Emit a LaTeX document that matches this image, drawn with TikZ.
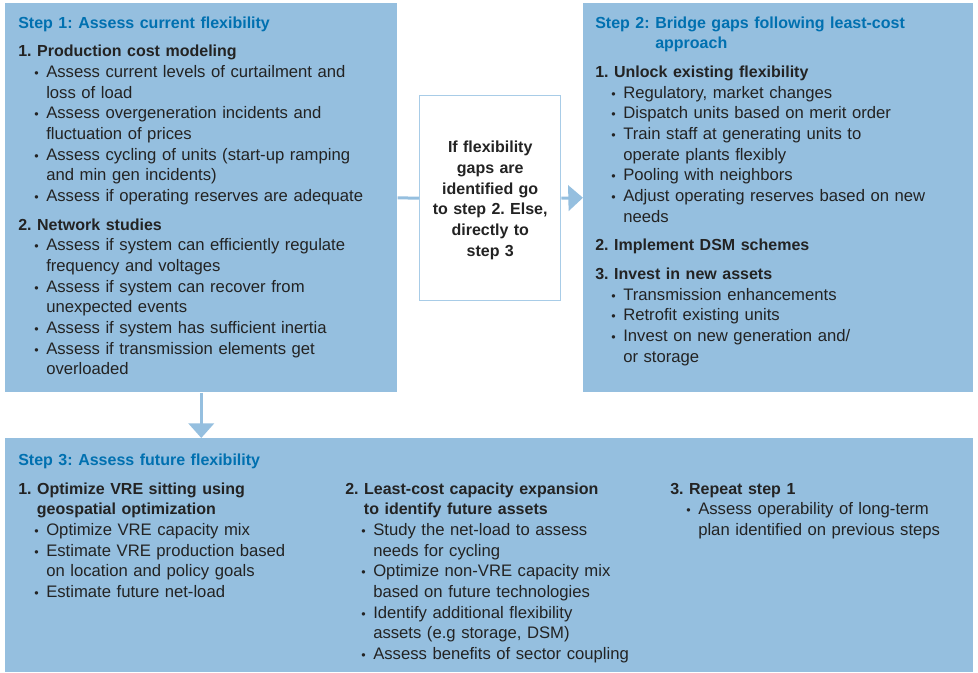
\documentclass[tikz,border=0pt]{standalone}
\usepackage{fontspec}
\setmainfont{Liberation Sans}
\usetikzlibrary{arrows.meta}
\definecolor{boxblue}{RGB}{149,191,223}
\definecolor{titleblue}{RGB}{0,112,176}
\definecolor{edgeblue}{RGB}{168,204,231}
\definecolor{inkgray}{RGB}{35,35,35}
\newcommand{\hdf}[1]{\hangindent=14pt\hangafter=1\noindent\strut{\fontsize{12}{15.5}\selectfont\bfseries #1}}
\newcommand{\hd}[1]{\par\vspace{6pt}\hdf{#1}}
\newcommand{\bl}[1]{\par\hangindent=21pt\hangafter=1\noindent\hspace*{12pt}\makebox[9pt][l]{\scalebox{0.75}{\textbullet}}#1}
\newcommand{\ttl}[1]{{\noindent\strut\color{titleblue}\fontsize{12}{15.5}\selectfont\bfseries #1\par}}
\tikzset{stepbox/.style={fill=boxblue, draw=none, inner sep=0pt, anchor=north west},
  gapbox/.style={fill=white, draw=edgeblue, line width=1.1pt, inner sep=0pt, anchor=north west},
  txt/.style={anchor=north west, inner sep=0pt, text width=#1, align=left, text=inkgray,
    font=\fontsize{12.5}{15.5}\selectfont\frenchspacing},
  link/.style={draw=boxblue, line width=2.25pt},
  tip/.style={-{Triangle[width=19pt,length=11pt]}}}

\begin{document}
\begin{tikzpicture}[x=0.75pt,y=-0.75pt]
  \useasboundingbox (0,0) rectangle (978,672);
  % boxes
  \node[stepbox, minimum width=294pt, minimum height=291.75pt] (step1) at (5,3) {};
  \node[stepbox, minimum width=292.5pt, minimum height=291.75pt] (step2) at (583,3) {};
  \node[stepbox, minimum width=726pt, minimum height=175.5pt] (step3) at (5,438) {};
  \node[gapbox, minimum width=105.75pt, minimum height=153.75pt] (gap) at (419,95) {};
  % connectors
  \draw[link] (step1.east) -- (gap.west);
  \draw[link, tip] (gap.east) -- (step2.west);
  \draw[link, tip] (step1.south) -- (step1.south |- step3.north);
  % decision text
  \node[txt=100pt, align=center, anchor=center, yshift=-1.5pt,
    font=\fontsize{12}{15.5}\selectfont\bfseries\frenchspacing] (gaptext) at (gap.center)
    {If flexibility\\gaps are\\identified go\\to step 2. Else,\\directly to\\step 3};
  % step 1
  \node[txt=290pt] (s1text) at (18,13.5) {%
    \ttl{Step 1: Assess current flexibility}
    \hd{1. Production cost modeling}
    \bl{Assess current levels of curtailment and\newline loss of load}
    \bl{Assess overgeneration incidents and\newline fluctuation of prices}
    \bl{Assess cycling of units (start-up ramping\newline and min gen incidents)}
    \bl{Assess if operating reserves are adequate}
    \hd{2. Network studies}
    \bl{Assess if system can efficiently regulate\newline frequency and voltages}
    \bl{Assess if system can recover from\newline unexpected events}
    \bl{Assess if system has sufficient inertia}
    \bl{Assess if transmission elements get\newline overloaded}\par};
  % step 2
  \node[txt=290pt] (s2text) at (595,13.5) {%
    {\color{titleblue}\fontsize{12}{15.5}\selectfont\bfseries\sbox0{Step 2: }\hangindent=\wd0\hangafter=1
      \noindent\strut Step 2: Bridge gaps following least-cost\newline approach\par}
    \hd{1. Unlock existing flexibility}
    \bl{Regulatory, market changes}
    \bl{Dispatch units based on merit order}
    \bl{Train staff at generating units to\newline operate plants flexibly}
    \bl{Pooling with neighbors}
    \bl{Adjust operating reserves based on new\newline needs}
    \hd{2. Implement DSM schemes}
    \hd{3. Invest in new assets}
    \bl{Transmission enhancements}
    \bl{Retrofit existing units}
    \bl{Invest on new generation and/\newline or storage}\par};
  % step 3
  \node[txt=400pt] (s3title) at (18,450.5) {\ttl{Step 3: Assess future flexibility}};
  \node[txt=240pt] (s3col1) at (18,479.5) {%
    \hdf{1. Optimize VRE sitting using\newline geospatial optimization}
    \bl{Optimize VRE capacity mix}
    \bl{Estimate VRE production based\newline on location and policy goals}
    \bl{Estimate future net-load}\par};
  \node[txt=240pt] (s3col2) at (345,479.5) {%
    \hdf{2. Least-cost capacity expansion\newline to identify future assets}
    \bl{Study the net-load to assess\newline needs for cycling}
    \bl{Optimize non-VRE capacity mix\newline based on future technologies}
    \bl{Identify additional flexibility\newline assets (e.g storage, DSM)}
    \bl{Assess benefits of sector coupling}\par};
  \node[txt=220pt] (s3col3) at (670,479.5) {%
    \hdf{3. Repeat step 1}
    \bl{Assess operability of long-term\newline plan identified on previous steps}\par};
\end{tikzpicture}
\end{document}
